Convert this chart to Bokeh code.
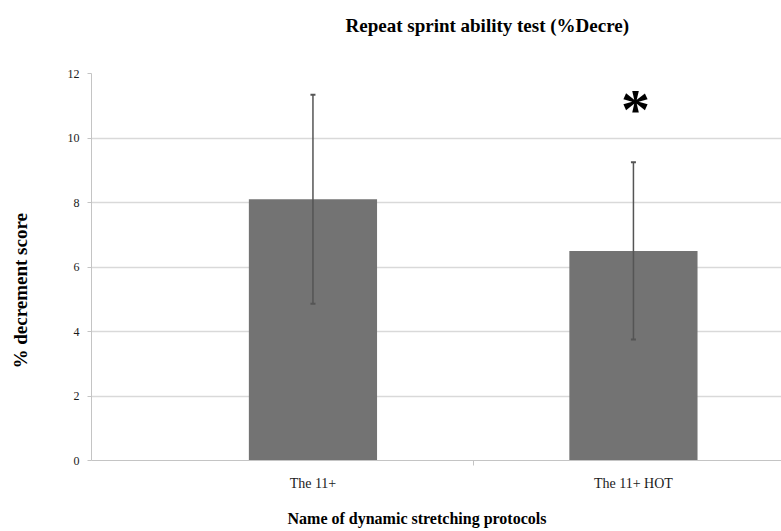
from bokeh.plotting import figure
from bokeh.models import ColumnDataSource, Whisker, TeeHead, FixedTicker, Range1d, Title
from bokeh.core.properties import value
from bokeh.embed import file_html
from bokeh.resources import INLINE

# ---- data ----
categories = ["The 11+", "The 11+ HOT"]
means = [8.10, 6.50]
sds = [3.24, 2.75]
y_ticks = [0, 2, 4, 6, 8, 10, 12]
sig_categories = ["The 11+ HOT"]
sig_marks = ["*"]
sig_y = [11.1]

xs = [i + 1 for i in range(len(categories))]
src = ColumnDataSource(dict(
    x=xs, top=means,
    upper=[m + s for m, s in zip(means, sds)],
    lower=[m - s for m, s in zip(means, sds)],
))

SERIF = "Liberation Serif"

p = figure(width=781, height=531, output_backend="svg", toolbar_location=None,
           x_range=Range1d(0.309, 2.462), y_range=Range1d(0, 12),
           min_border_left=91, min_border_right=0, min_border_top=73, min_border_bottom=71)
p.title_location = None
p.outline_line_color = None
p.background_fill_color = "white"

p.vbar(x="x", top="top", width=0.4, source=src, fill_color="#737373", line_color=None)

wh = Whisker(base="x", upper="upper", lower="lower", source=src,
             line_color="#555555", line_width=1.5, level="overlay",
             upper_head=TeeHead(size=5, line_color="#555555", line_width=2),
             lower_head=TeeHead(size=5, line_color="#555555", line_width=2))
p.add_layout(wh)

sx = [xs[categories.index(c)] for c in sig_categories]
p.text(x=sx, y=sig_y, text=sig_marks, text_align="center", text_baseline="middle",
       text_font=value(SERIF), text_font_style="bold", text_font_size="58px",
       text_color="black", y_offset=7, x_offset=2)

# grid
p.xgrid.grid_line_color = None
p.ygrid.ticker = FixedTicker(ticks=y_ticks)
p.ygrid.grid_line_color = "#d9d9d9"
p.ygrid.grid_line_width = 1.5

# y axis
p.yaxis.ticker = FixedTicker(ticks=y_ticks)
p.yaxis.axis_line_color = "#c4c4c4"
p.yaxis.major_tick_line_color = "#c4c4c4"
p.yaxis.major_tick_out = 4
p.yaxis.major_tick_in = 0
p.yaxis.minor_tick_line_color = None
p.yaxis.major_label_standoff = 8
p.yaxis.major_label_text_font = SERIF
p.yaxis.major_label_text_font_size = "12px"
p.yaxis.major_label_text_color = "#1a1a1a"

# x axis
mids = [x + 0.5 for x in xs[:-1]]
p.xaxis.ticker = FixedTicker(ticks=xs, minor_ticks=mids)
p.xaxis.major_label_overrides = {x: c for x, c in zip(xs, categories)}
p.xaxis.axis_line_color = "#c4c4c4"
p.xaxis.major_tick_line_color = None
p.xaxis.minor_tick_line_color = "#c4c4c4"
p.xaxis.minor_tick_out = 5
p.xaxis.minor_tick_in = 0
p.xaxis.major_label_standoff = 9
p.xaxis.major_label_text_font = SERIF
p.xaxis.major_label_text_font_size = "14px"
p.xaxis.major_label_text_color = "#1a1a1a"

# titles, with blank spacer panels between them and the frame
def spacer(k):
    return Title(text=" ", text_font_size="1px", standoff=k)

tstyle = dict(text_font=SERIF, text_font_style="bold", text_color="black", standoff=0)

p.add_layout(spacer(35), "above")
p.add_layout(Title(text="Repeat sprint ability test (%Decre)", align="left", offset=254,
                   text_font_size="19px", **tstyle), "above")

p.add_layout(spacer(11), "below")
p.add_layout(Title(text="Name of dynamic stretching protocols", align="left", offset=196,
                   text_font_size="16px", **tstyle), "below")

p.add_layout(spacer(31), "left")
p.add_layout(Title(text="% decrement score", align="left", offset=92,
                   text_font_size="19px", **tstyle), "left")

open("out.html", "w").write(file_html(p, INLINE))
